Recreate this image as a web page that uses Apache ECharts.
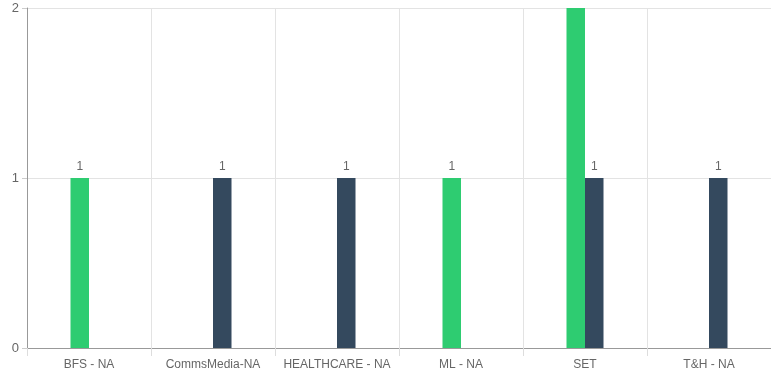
<!DOCTYPE html>
<html>
<head>
<meta charset="utf-8">
<script src="https://cdn.jsdelivr.net/npm/echarts@6/dist/echarts.min.js"></script>
<style>html,body{margin:0;padding:0;background:#fff}#c{width:771px;height:378px}</style>
</head>
<body>
<div id="c"></div>
<script>
var categories = ['BFS - NA', 'CommsMedia-NA', 'HEALTHCARE - NA', 'ML - NA', 'SET', 'T&H - NA'];
var seriesA = [1, null, null, 1, 2, null];
var seriesB = [null, 1, 1, null, 1, 1];
var yTicks = [0, 1, 2];

var chart = echarts.init(document.getElementById('c'));
var font = 'Liberation Sans, Arial, sans-serif';
chart.setOption({
  animation: false,
  grid: {left: 27, right: 0, top: 8, bottom: 30, containLabel: false},
  xAxis: {
    type: 'category', data: categories,
    axisLine: {lineStyle: {color: '#999'}},
    axisTick: {show: true, interval: 0, length: 8, lineStyle: {color: '#ddd'}},
    splitLine: {show: true, interval: 0, lineStyle: {color: '#e3e3e3'}},
    axisLabel: {interval: 0, color: '#666', fontSize: 12, fontFamily: font, margin: 11}
  },
  yAxis: {
    type: 'value', min: yTicks[0], max: yTicks[yTicks.length - 1], interval: 1,
    axisLine: {show: true, lineStyle: {color: '#999'}},
    axisTick: {show: true, length: 5, lineStyle: {color: '#ccc'}},
    splitLine: {show: true, lineStyle: {color: '#e3e3e3'}},
    axisLabel: {color: '#666', fontSize: 13, fontFamily: font, margin: 8}
  },
  series: [
    {type: 'bar', data: seriesA, barWidth: 18.5, barGap: '0%', itemStyle: {color: '#2ecc71'},
     label: {show: true, position: 'top', color: '#666', fontSize: 12, fontFamily: font, distance: 5}},
    {type: 'bar', data: seriesB, barWidth: 18.5, barGap: '0%', itemStyle: {color: '#34495e'},
     label: {show: true, position: 'top', color: '#666', fontSize: 12, fontFamily: font, distance: 5}}
  ]
});
</script>
</body>
</html>
